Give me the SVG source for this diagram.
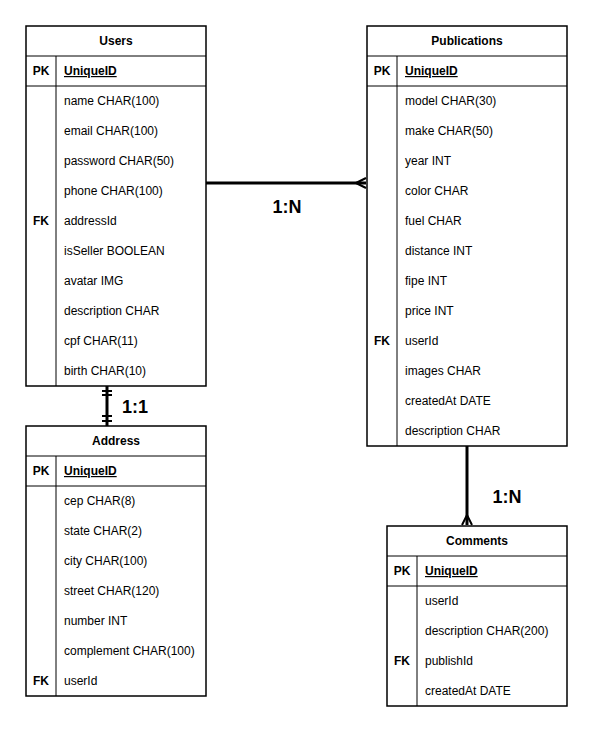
<svg xmlns="http://www.w3.org/2000/svg" width="592" height="732" viewBox="0 0 592 732">
<style>
.box{fill:#fff;stroke:#000;stroke-width:1.5}
.ln{stroke:#000;stroke-width:1;fill:none}
text{font-family:"Liberation Sans",Arial,sans-serif;font-size:12px;fill:#000}
.h{font-weight:bold;text-anchor:middle}
.k{text-anchor:middle}
.pk{text-decoration:underline;font-weight:bold}
.pkl{font-weight:bold;text-anchor:middle}
.lab{font-weight:bold;font-size:18px;text-anchor:middle}
.c{stroke:#000;stroke-width:3;fill:none}
.m{stroke:#000;stroke-width:2;fill:none}
</style>
<rect width="592" height="732" fill="#fff"/>
<g id="users">
<rect class="box" x="26" y="26" width="180" height="360"/>
<line class="ln" x1="26" y1="56" x2="206" y2="56"/>
<line class="ln" x1="26" y1="86" x2="206" y2="86"/>
<line class="ln" x1="56" y1="56" x2="56" y2="386"/>
<text class="h" x="116" y="45">Users</text>
<text class="pkl" x="41" y="75">PK</text>
<text class="pk" x="64" y="75">UniqueID</text>
<text x="64" y="105">name CHAR(100)</text>
<text x="64" y="135">email CHAR(100)</text>
<text x="64" y="165">password CHAR(50)</text>
<text x="64" y="195">phone CHAR(100)</text>
<text class="pkl" x="41" y="225">FK</text>
<text x="64" y="225">addressId</text>
<text x="64" y="255">isSeller BOOLEAN</text>
<text x="64" y="285">avatar IMG</text>
<text x="64" y="315">description CHAR</text>
<text x="64" y="345">cpf CHAR(11)</text>
<text x="64" y="375">birth CHAR(10)</text>
</g>
<g id="publications">
<rect class="box" x="367" y="26" width="200" height="420"/>
<line class="ln" x1="367" y1="56" x2="567" y2="56"/>
<line class="ln" x1="367" y1="86" x2="567" y2="86"/>
<line class="ln" x1="397" y1="56" x2="397" y2="446"/>
<text class="h" x="467" y="45">Publications</text>
<text class="pkl" x="382" y="75">PK</text>
<text class="pk" x="405" y="75">UniqueID</text>
<text x="405" y="105">model CHAR(30)</text>
<text x="405" y="135">make CHAR(50)</text>
<text x="405" y="165">year INT</text>
<text x="405" y="195">color CHAR</text>
<text x="405" y="225">fuel CHAR</text>
<text x="405" y="255">distance INT</text>
<text x="405" y="285">fipe INT</text>
<text x="405" y="315">price INT</text>
<text class="pkl" x="382" y="345">FK</text>
<text x="405" y="345">userId</text>
<text x="405" y="375">images CHAR</text>
<text x="405" y="405">createdAt DATE</text>
<text x="405" y="435">description CHAR</text>
</g>
<g id="address">
<rect class="box" x="26" y="426" width="180" height="270"/>
<line class="ln" x1="26" y1="456" x2="206" y2="456"/>
<line class="ln" x1="26" y1="486" x2="206" y2="486"/>
<line class="ln" x1="56" y1="456" x2="56" y2="696"/>
<text class="h" x="116" y="445">Address</text>
<text class="pkl" x="41" y="475">PK</text>
<text class="pk" x="64" y="475">UniqueID</text>
<text x="64" y="505">cep CHAR(8)</text>
<text x="64" y="535">state CHAR(2)</text>
<text x="64" y="565">city CHAR(100)</text>
<text x="64" y="595">street CHAR(120)</text>
<text x="64" y="625">number INT</text>
<text x="64" y="655">complement CHAR(100)</text>
<text class="pkl" x="41" y="685">FK</text>
<text x="64" y="685">userId</text>
</g>
<g id="comments">
<rect class="box" x="387" y="526" width="180" height="180"/>
<line class="ln" x1="387" y1="556" x2="567" y2="556"/>
<line class="ln" x1="387" y1="586" x2="567" y2="586"/>
<line class="ln" x1="417" y1="556" x2="417" y2="706"/>
<text class="h" x="477" y="545">Comments</text>
<text class="pkl" x="402" y="575">PK</text>
<text class="pk" x="425" y="575">UniqueID</text>
<text x="425" y="605">userId</text>
<text x="425" y="635">description CHAR(200)</text>
<text class="pkl" x="402" y="665">FK</text>
<text x="425" y="665">publishId</text>
<text x="425" y="695">createdAt DATE</text>
</g>
<g id="connectors">
<line class="c" x1="206" y1="183" x2="366" y2="183"/>
<path class="m" d="M356,183 L366,178 M356,183 L366,188 M356,183 L366,183"/>
<line class="c" x1="107" y1="386" x2="107" y2="426"/>
<path class="m" d="M102,391 H112 M102,395 H112 M102,416 H112 M102,421 H112"/>
<line class="c" x1="467" y1="446" x2="467" y2="525"/>
<path class="m" d="M467,515 L462,525 M467,515 L472,525 M467,515 L467,525"/>
<text class="lab" x="287" y="213">1:N</text>
<text class="lab" x="135" y="413">1:1</text>
<text class="lab" x="507" y="503">1:N</text>
</g>
</svg>
